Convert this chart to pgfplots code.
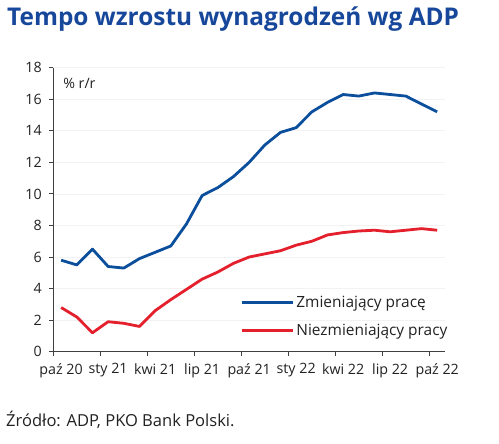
\documentclass[border=0pt]{standalone}
\usepackage{fontspec}
\setmainfont{Open Sans}
\usepackage{pgfplots}
\pgfplotsset{compat=1.18}
\definecolor{bl}{HTML}{0B4F9C}
\definecolor{rd}{HTML}{E3202C}
\definecolor{tt}{HTML}{17479A}
\definecolor{tx}{HTML}{222222}
\definecolor{ax}{HTML}{404040}
\begin{document}
\begin{tikzpicture}[x=1bp,y=1bp]
\path[use as bounding box] (0,0) rectangle (499,-444);
\node[anchor=base west, inner sep=0, text=tt, font=\fontsize{24.5}{24.5}\selectfont\bfseries] at (7,-26) {Tempo wzrostu wynagrodzeń wg ADP};
\node[anchor=base west, inner sep=0, text=tx, font=\fontsize{16.6}{16.6}\selectfont] at (6,-426) {Źródło: ADP, PKO Bank Polski.};
\begin{axis}[
  at={(53.3bp,-351.7bp)}, anchor=south west,
  scale only axis, width=391.7bp, height=284bp,
  xmin=-0.5, xmax=24.5, ymin=0, ymax=18,
  axis x line=bottom, axis y line=left,
  axis line style={-, ax, line width=0.9bp},
  ytick={0,2,...,18},
  xtick={0,3,...,24},
  xticklabels={paź 20, sty 21, kwi 21, lip 21, paź 21, sty 22, kwi 22, lip 22, paź 22},
  minor xtick={-0.5,2.5,...,23.5},
  major x tick style={draw=none},
  minor x tick style={ax, line width=0.9bp},
  major y tick style={ax, line width=0.9bp},
  tick align=outside,
  major tick length=4bp, minor tick length=4bp,
  ymajorgrids, grid style={black!5, line width=0.8bp},
  tick label style={font=\fontsize{14.3}{14.3}\selectfont, text=tx},
  xticklabel style={yshift=-4bp},
  yticklabel style={xshift=-4bp},
  /pgf/number format/assume math mode=true,
  legend style={at={(0.47,0.21)}, anchor=north west, draw=none, fill=none,
    font=\fontsize{15.5}{15.5}\selectfont, text=tx, row sep=11bp},
  legend cell align=left,
  legend image code/.code={\draw[#1] (0bp,0bp) -- (51bp,0bp);},
]
\addplot[bl, line width=2.8bp, line join=round] coordinates {
(0,5.8)(1,5.5)(2,6.5)(3,5.4)(4,5.3)(5,5.9)(6,6.3)(7,6.7)(8,8.1)(9,9.9)(10,10.4)(11,11.1)(12,12.0)
(13,13.1)(14,13.9)(15,14.2)(16,15.2)(17,15.8)(18,16.3)(19,16.2)(20,16.4)(21,16.3)(22,16.2)(23,15.7)(24,15.2)};
\addlegendentry{Zmieniający pracę}
\addplot[rd, line width=2.8bp, line join=round] coordinates {
(0,2.8)(1,2.2)(2,1.2)(3,1.9)(4,1.8)(5,1.6)(6,2.6)(7,3.3)(8,3.95)(9,4.6)(10,5.05)(11,5.6)(12,6.0)
(13,6.2)(14,6.4)(15,6.75)(16,7.0)(17,7.4)(18,7.55)(19,7.65)(20,7.7)(21,7.6)(22,7.7)(23,7.8)(24,7.7)};
\addlegendentry{Niezmieniający pracy}
\node[anchor=west, inner sep=0, text=tx, font=\fontsize{14.3}{14.3}\selectfont] at (rel axis cs:0.025,0.945) {\% r/r};
\end{axis}
\end{tikzpicture}
\end{document}
